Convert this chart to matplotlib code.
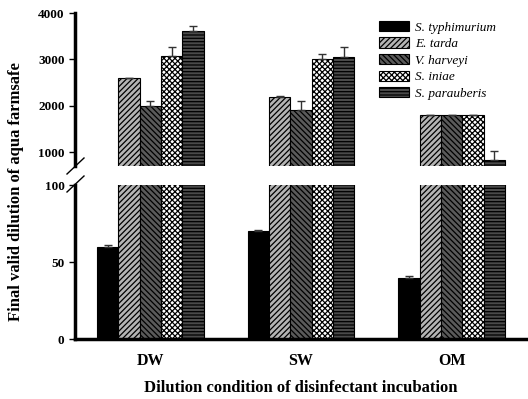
import numpy as np
import matplotlib.pyplot as plt
from matplotlib.lines import Line2D

# Dados
condicoes = ['DW', 'SW', 'OM']
especies = ['S. typhimurium', 'E. tarda', 'V. harveyi', 'S. iniae', 'S. parauberis']
valores = [
    [60, 70, 40],
    [2600, 2200, 1800],
    [2000, 1900, 1800],
    [3070, 3000, 1800],
    [3610, 3060, 830],
]
erros = [
    [1, 1, 1],
    [10, 10, 10],
    [110, 200, 10],
    [210, 120, 10],
    [110, 210, 200],
]

cores = ['black', '#b4b4b4', '#5a5a5a', 'white', '#4a4a4a']
hachuras = [None, '//////', '\\\\\\\\\\\\', 'xxxxxx', '-----']

plt.rcParams['font.family'] = ['Liberation Serif', 'DejaVu Serif']
plt.rcParams['font.weight'] = 'bold'
plt.rcParams['hatch.linewidth'] = 0.9

fig = plt.figure(figsize=(5.28, 3.99), dpi=100)
ax_top = fig.add_axes([0.142, 0.584, 0.856, 0.383])
ax_bot = fig.add_axes([0.142, 0.150, 0.856, 0.386])

x = np.arange(len(condicoes))
w = 0.1415

for ax in (ax_top, ax_bot):
    for i, nome in enumerate(especies):
        pos = x + (i - 2) * w
        err = [[0] * 3, erros[i]]
        ax.bar(pos, valores[i], w, color=cores[i], edgecolor='black',
               hatch=hachuras[i], linewidth=0.8, label=nome,
               yerr=err, capsize=3,
               error_kw=dict(ecolor='#333333', elinewidth=1, capthick=1))
    ax.set_xlim(-0.5, 2.5)
    for s in ['top', 'right']:
        ax.spines[s].set_visible(False)
    ax.spines['left'].set_linewidth(2.5)
    ax.tick_params(axis='y', labelsize=9.5, width=1, length=4)

ax_top.set_ylim(700, 4000)
ax_top.set_yticks([1000, 2000, 3000, 4000])
ax_top.spines['bottom'].set_visible(False)
ax_top.set_xticks([])

ax_bot.set_ylim(0, 100)
ax_bot.set_yticks([0, 50, 100])
ax_bot.spines['bottom'].set_linewidth(2.5)
ax_bot.set_xticks(x)
ax_bot.set_xticklabels(condicoes, fontsize=11.5, fontweight='bold')
ax_bot.tick_params(axis='x', length=0, pad=10)
ax_bot.set_xlabel('Dilution condition of disinfectant incubation',
                  fontsize=12, fontweight='bold', labelpad=8)

fig.text(0.03, 0.52, 'Final valid dilution of aqua farmsafe', rotation=90,
         ha='center', va='center', fontsize=12, fontweight='bold')

# marcas de quebra
W, H = 528, 399
for yc in (166, 184):
    fig.add_artist(Line2D([67 / W, 84 / W], [1 - (yc + 8) / H, 1 - (yc - 8) / H],
                          color='black', linewidth=1, transform=fig.transFigure))

leg = fig.legend(*ax_top.get_legend_handles_labels(), loc='upper left',
                 bbox_to_anchor=(367 / W, 1 - 9 / H), frameon=False,
                 prop={'style': 'italic', 'weight': 'normal', 'size': 9.5},
                 handlelength=2.3, handleheight=0.8, labelspacing=0.3,
                 handletextpad=0.45)

plt.savefig('out.png', dpi=100)
